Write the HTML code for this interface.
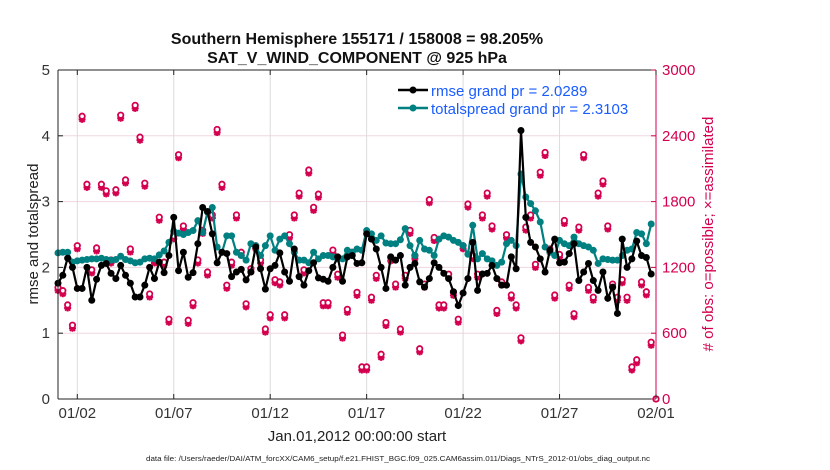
<!DOCTYPE html>
<html><head><meta charset="utf-8"><style>
body{margin:0;background:#fff;}
svg{display:block;font-family:"Liberation Sans",Arial,sans-serif;}
</style></head><body>
<svg id="chart" width="830" height="470" viewBox="0 0 830 470">
<g id="grid"></g>
<g id="obs"></g>
<g id="series"></g>
<g id="axes"></g>
<text x="357" y="44" text-anchor="middle" font-size="16" font-weight="bold" fill="#111">Southern Hemisphere 155171 / 158008 = 98.205%</text>
<text x="357" y="63" text-anchor="middle" font-size="16" font-weight="bold" fill="#111">SAT_V_WIND_COMPONENT @ 925 hPa</text>
<text x="357" y="441" text-anchor="middle" font-size="15" fill="#222">Jan.01,2012 00:00:00 start</text>
<text x="398" y="461" text-anchor="middle" font-size="7.6" fill="#222" textLength="504" lengthAdjust="spacingAndGlyphs">data file: /Users/raeder/DAI/ATM_forcXX/CAM6_setup/f.e21.FHIST_BGC.f09_025.CAM6assim.011/Diags_NTrS_2012-01/obs_diag_output.nc</text>
<text transform="translate(38,234) rotate(-90)" text-anchor="middle" font-size="15" fill="#222">rmse and totalspread</text>
<text transform="translate(713,234) rotate(-90)" text-anchor="middle" font-size="15" fill="#d4004f"># of obs: o=possible; ×=assimilated</text>
<g>
<line x1="398" y1="90" x2="428" y2="90" stroke="#000" stroke-width="2.5"/>
<circle cx="413" cy="90" r="3.5" fill="#000"/>
<text x="431" y="96" font-size="15" fill="#1a5cff">rmse grand pr = 2.0289</text>
<line x1="398" y1="108" x2="428" y2="108" stroke="#008080" stroke-width="2.5"/>
<circle cx="413" cy="108" r="3.5" fill="#008080"/>
<text x="431" y="114" font-size="15" fill="#1a5cff">totalspread grand pr = 2.3103</text>
</g>
</svg>
<script>
const rmse=[1.76,1.88,2.14,2.0,1.68,1.68,2.0,1.5,1.82,2.03,2.06,1.91,1.83,2.03,1.88,1.76,1.55,1.55,1.73,2.0,1.83,2.08,1.92,2.18,2.76,1.95,2.23,1.85,1.92,2.36,2.91,2.85,
2.51,2.07,2.23,2.21,1.86,1.93,1.97,1.81,1.93,2.31,1.98,1.67,1.98,2.03,2.22,1.93,1.79,2.28,1.86,1.73,1.95,2.07,1.84,1.82,1.79,2.0,2.16,1.79,2.16,2.18,2.06,
2.07,2.51,2.43,2.28,2.0,1.68,2.16,2.11,2.18,1.73,2.0,2.06,1.78,1.70,1.83,2.07,2.0,1.91,1.83,1.63,1.42,1.61,1.83,2.38,1.65,1.9,1.91,2.03,1.83,1.73,1.73,
2.16,1.98,4.08,2.76,2.38,2.31,2.13,1.93,2.26,2.43,2.07,2.08,2.21,2.36,1.80,1.93,2.06,1.80,1.65,1.93,1.53,1.70,1.30,2.43,2.0,2.13,2.40,2.18,2.15,1.90];
const spread=[2.22,2.23,2.23,2.08,2.10,2.11,2.12,2.13,2.13,2.14,2.12,2.11,2.12,2.17,2.12,2.10,2.07,2.08,2.13,2.14,2.13,2.19,2.25,2.38,2.55,2.52,2.50,2.53,2.56,2.71,2.53,2.84,
2.91,2.31,2.23,2.48,2.48,2.23,2.18,2.11,2.36,2.33,2.18,2.33,2.48,2.26,2.43,2.48,2.36,2.23,2.11,2.11,2.07,2.23,2.13,2.18,2.18,2.16,2.13,2.13,2.26,2.23,2.28,
2.26,2.56,2.51,2.41,2.48,2.37,2.36,2.36,2.42,2.59,2.33,2.18,2.41,2.28,2.26,2.18,2.43,2.48,2.46,2.41,2.38,2.33,2.20,2.64,2.13,2.21,2.13,2.10,2.03,2.08,2.36,
2.41,2.33,3.42,3.07,2.97,2.86,2.69,2.31,2.23,2.18,2.41,2.36,2.33,2.46,2.36,2.33,2.31,2.26,2.06,2.13,2.12,2.11,2.11,2.18,2.26,2.28,2.53,2.51,2.36,2.66];
const assimilated=[990,960,830,645,1370,2550,1930,1150,1350,1930,1870,1240,1880,2560,1970,1340,2650,2360,1940,930,1240,1630,1220,700,1460,2200,1550,690,850,1240,1510,1130,
1650,2430,1930,1010,1220,1650,1310,840,1160,1370,1240,610,740,1060,1040,740,1470,1650,1850,1150,2060,1720,1840,850,850,1330,1110,555,790,1310,945,
265,265,900,1100,380,670,1260,1020,610,1100,1510,1280,430,1020,1790,1445,830,830,1110,945,700,1370,1750,1280,1110,1650,1850,1550,780,1040,1470,
920,830,530,1540,1650,1200,2040,2220,1340,920,1290,1600,1010,750,1540,2200,990,900,1850,1960,1550,1020,900,1060,900,265,330,1040,950,490,0];
const possible=assimilated.map(v=>v>0?v+28:0);
const xTickLabels=["01/02","01/07","01/12","01/17","01/22","01/27","02/01"];
const xTickDays=[1,6,11,16,21,26,31];
const yLeftTicks=[0,1,2,3,4,5];
const yRightTicks=[0,600,1200,1800,2400,3000];

const L=58,R=656,T=70,B=399;
const NS="http://www.w3.org/2000/svg";
const xDay=d=>L+d*(R-L)/31;
const xIdx=i=>xDay(i*0.25);
const yL=v=>B-v*(B-T)/5;
const yR=v=>B-v*(B-T)/3000;
function mk(tag,attrs,parent){const e=document.createElementNS(NS,tag);for(const k in attrs)e.setAttribute(k,attrs[k]);parent.appendChild(e);return e;}
const grid=document.getElementById('grid'),axes=document.getElementById('axes'),ser=document.getElementById('series'),obs=document.getElementById('obs');

yRightTicks.forEach(v=>{if(v>0&&v<3000){const g=mk('line',{x1:L,x2:R,y1:yR(v),y2:yR(v),stroke:'#f0d6e0','stroke-width':1},grid);

}});
xTickDays.forEach(d=>{if(d<31){const g=mk('line',{x1:xDay(d),x2:xDay(d),y1:T,y2:B,stroke:'#dcdcdc','stroke-width':1},grid);

}});

assimilated.forEach((v,i)=>{
 const x=xIdx(i),y=yR(v),yp=yR(possible[i]);
 const g=mk('g',{stroke:'#d4004f','stroke-width':2,fill:'none'},obs);
 
 
 mk('path',{d:`M${x-3.5},${y}h7M${x},${y-3.5}v7M${x-2.6},${y-2.6}l5.2,5.2M${x-2.6},${y+2.6}l5.2,-5.2`},g);
 mk('circle',{cx:x,cy:yp,r:2.7,fill:'#fff','stroke-width':1.8},g);
});

function drawLine(data,color,name){
 const pts=data.map((v,i)=>xIdx(i).toFixed(1)+','+yL(v).toFixed(1)).join(' ');
 const pl=mk('polyline',{points:pts,fill:'none',stroke:color,'stroke-width':2.2},ser);
 
 
 data.forEach((v,i)=>{const c=mk('circle',{cx:xIdx(i),cy:yL(v),r:3.5,fill:color},ser);
 
 });
}
drawLine(spread,'#008080','totalspread');
drawLine(rmse,'#000000','rmse');

mk('line',{x1:L,x2:R,y1:T,y2:T,stroke:'#222','stroke-width':1},axes);
mk('line',{x1:L,x2:R,y1:B,y2:B,stroke:'#222','stroke-width':1},axes);
mk('line',{x1:L,x2:L,y1:T,y2:B,stroke:'#222','stroke-width':1},axes);
mk('line',{x1:R,x2:R,y1:T,y2:B,stroke:'#d4004f','stroke-width':1},axes);
yLeftTicks.forEach(v=>{
 mk('line',{x1:L,x2:L+5,y1:yL(v),y2:yL(v),stroke:'#222'},axes);
 const t=mk('text',{x:L-8,y:yL(v)+5,'text-anchor':'end','font-size':15,fill:'#333'},axes);t.textContent=v;
 
 
});
yRightTicks.forEach(v=>{
 mk('line',{x1:R-5,x2:R,y1:yR(v),y2:yR(v),stroke:'#d4004f'},axes);
 const t=mk('text',{x:R+6,y:yR(v)+5,'font-size':15,fill:'#d4004f'},axes);t.textContent=v;
 
 
});
xTickDays.forEach((d,k)=>{
 mk('line',{x1:xDay(d),x2:xDay(d),y1:B,y2:B-5,stroke:'#222'},axes);
 mk('line',{x1:xDay(d),x2:xDay(d),y1:T,y2:T+5,stroke:'#222'},axes);
 const t=mk('text',{x:xDay(d),y:B+19,'text-anchor':'middle','font-size':15,fill:'#333'},axes);t.textContent=xTickLabels[k];
 
 
});
</script>
</body></html>
